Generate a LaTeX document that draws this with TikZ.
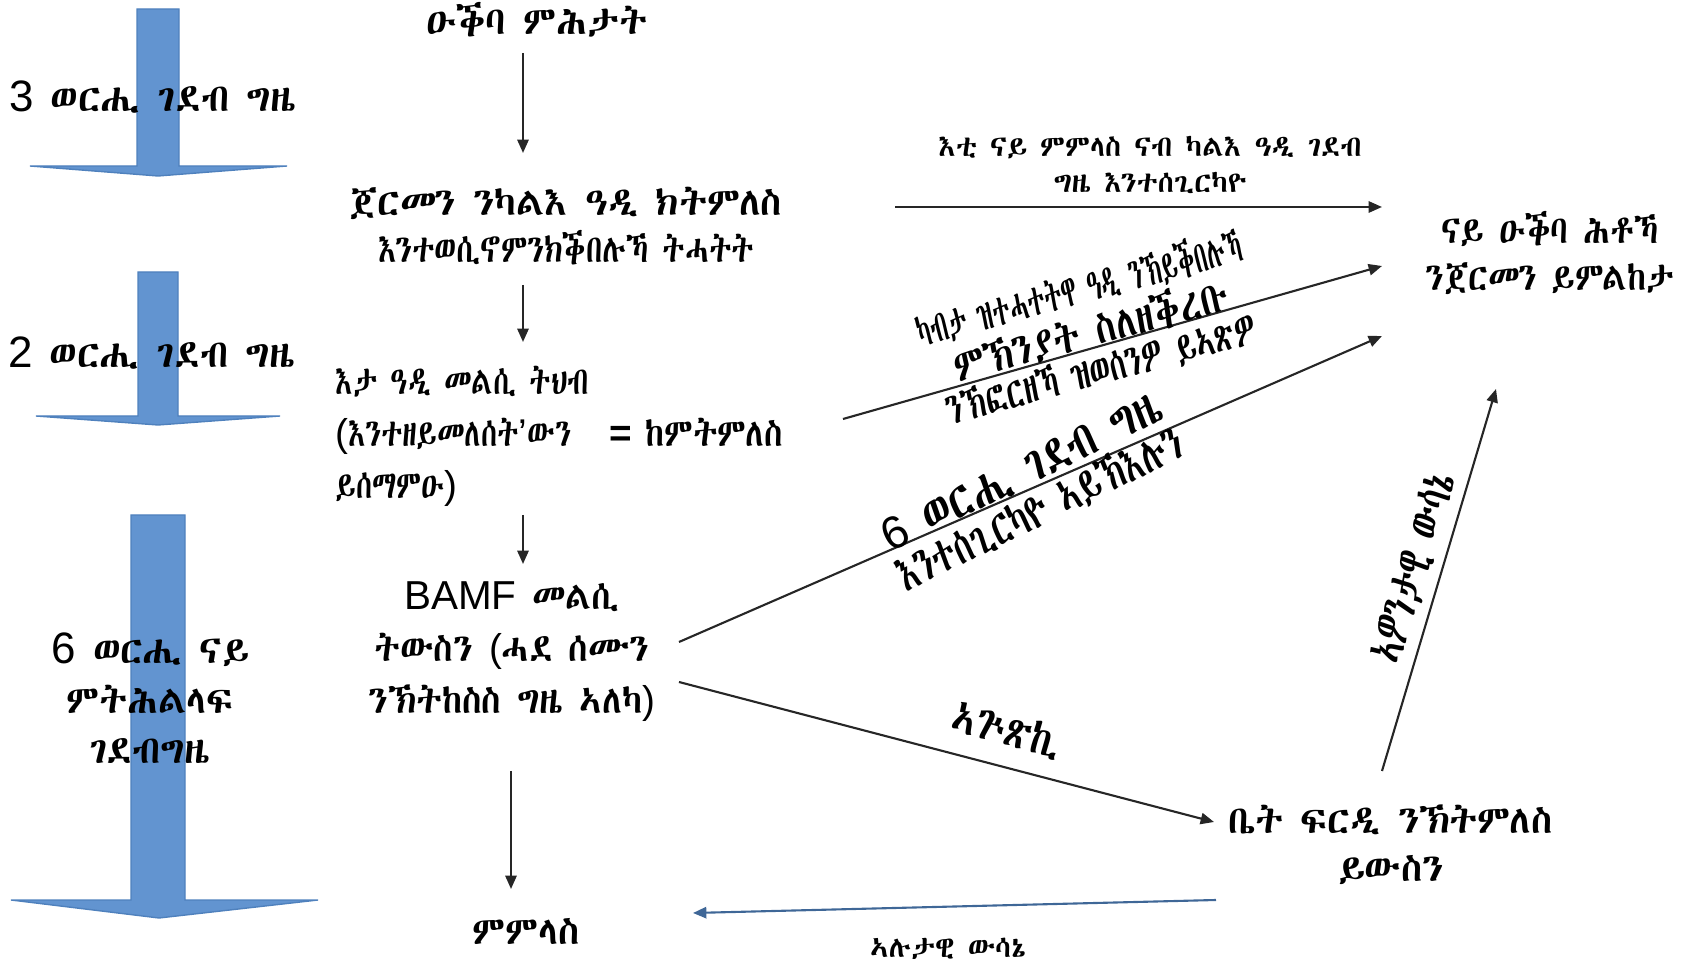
\documentclass[tikz,border=0pt]{standalone}
\usepackage{fontspec}
\setmainfont{Liberation Sans}
\newfontfamily\eth{Abyssinica SIL}
\newfontfamily\ethA[FakeStretch=0.87]{Abyssinica SIL}
\newfontfamily\ethG[FakeStretch=0.76]{Abyssinica SIL}
\newfontfamily\ethB[FakeStretch=0.8]{Abyssinica SIL}
\newfontfamily\ethC[FakeStretch=0.55]{Abyssinica SIL}
\newfontfamily\ethD[FakeStretch=0.68]{Abyssinica SIL}
\newfontfamily\ethE[FakeStretch=0.84]{Abyssinica SIL}
\newfontfamily\ethF[FakeStretch=0.92]{Abyssinica SIL}
\usetikzlibrary{arrows.meta}
\newcommand\latn[1]{{\rmfamily #1}}
\definecolor{bluefill}{RGB}{98,148,208}
\definecolor{blueline}{RGB}{79,129,189}
\tikzset{
 txt/.style={inner sep=0pt, font=\eth\fontsize{11}{13.6}\selectfont, text=black},
 small/.style={inner sep=0pt, font=\eth\fontsize{8.3}{10.2}\selectfont},
 big/.style={inner sep=0pt, font=\eth\fontsize{13}{11}\selectfont},
 arr/.style={draw=black!85, line width=0.6pt, -{Triangle[length=3.8pt,width=3.2pt]}},
 bigarrow/.style={fill=bluefill, draw=blueline, line width=0.4pt}
}
\begin{document}
\begin{tikzpicture}[x=0.01cm, y=-0.01cm]
\useasboundingbox (0,0) rectangle (1684,967);
% blue time arrows
\draw[bigarrow] (137,9) -- (179,9) -- (179,166) -- (287,166) -- (158,176) -- (30,166) -- (137,166) -- cycle;
\draw[bigarrow] (138,272) -- (178,272) -- (178,416) -- (280,416) -- (158,425) -- (36,416) -- (138,416) -- cycle;
\draw[bigarrow] (131,515) -- (185,515) -- (185,900) -- (318,900) -- (159,918) -- (11,900) -- (131,900) -- cycle;
\node[txt] (t3) at (153,97) {\latn{\fontsize{12.5}{14}\selectfont 3} ወርሒ ገደብ ግዜ};
\node[txt] (t2) at (152,353) {\latn{\fontsize{12.5}{14}\selectfont 2} ወርሒ ገደብ ግዜ};
\node[txt, align=center, font=\eth\fontsize{11}{14.2}\selectfont] (t6) at (150,698) {\latn{\fontsize{12.5}{14}\selectfont 6} ወርሒ ናይ\\ምትሕልላፍ\\ገደብግዜ};
% main column
\node[txt] (ask) at (537,20) {ዑቕባ ምሕታት};
\node[txt, align=center] (germ) at (566,226) {ጀርመን ንካልእ ዓዲ ክትምለስ\\{\ethB እንተወሲኖምንክቕበሉኻ ትሓትት}};
\node[txt, align=left, anchor=west, font=\ethG\fontsize{11}{14.8}\selectfont] (ans) at (335,436) {እታ ዓዲ መልሲ ትህብ\\\latn{(}እንተዘይመለሰት\latn{'}ውን\quad\latn{\textbf{=}}\ {\ethA ከምትምለስ}\\ይሰማምዑ\latn{)}};
\node[txt, align=center, font=\ethF\fontsize{11}{14.8}\selectfont] (bamf) at (512,652) {\latn{\fontsize{11.5}{14}\selectfont BAMF} መልሲ\\ትውስን \latn{(}ሓደ ሰሙን\\ንኽትከስስ ግዜ ኣለካ\latn{)}};
\node[txt] (ret) at (526,931) {ምምላስ};
% right column
\node[txt, align=center, font=\ethA\fontsize{11}{13.6}\selectfont] (resp) at (1550,253) {ናይ ዑቕባ ሕቶኻ\\ንጀርመን ይምልከታ};
\node[txt, align=center] (court) at (1391,845) {ቤት ፍርዲ ንኽትምለስ\\ይውስን};
% connector end points
\coordinate (a1s) at (523,53);  \coordinate (a1e) at (523,153);
\coordinate (a2s) at (523,285); \coordinate (a2e) at (523,342);
\coordinate (a3s) at (523,515); \coordinate (a3e) at (523,564);
\coordinate (a4s) at (511,771); \coordinate (a4e) at (511,889);
\coordinate (hAs) at (895,207); \coordinate (hAe) at (1382,207);
\coordinate (hBs) at (843,419); \coordinate (hBe) at (1382,266);
\coordinate (hCs) at (679,642); \coordinate (hCe) at (1382,336);
\coordinate (hDs) at (679,682); \coordinate (hDe) at (1214,822);
\coordinate (hEs) at (1382,771); \coordinate (hEe) at (1496,389);
\coordinate (hFs) at (1216,900); \coordinate (hFe) at (693,913);
\draw[arr] (a1s) -- (a1e);
\draw[arr] (a2s) -- (a2e);
\draw[arr] (a3s) -- (a3e);
\draw[arr] (a4s) -- (a4e);
\draw[arr] (hAs) -- (hAe);
\draw[arr] (hBs) -- (hBe);
\draw[arr] (hCs) -- (hCe);
\draw[arr] (hDs) -- (hDe);
\draw[arr] (hEs) -- (hEe);
\draw[arr, draw=blueline!80!black] (hFs) -- (hFe);
% labels on connectors
\node[small, align=center] (lA) at (1150,165) {እቲ ናይ ምምላስ ናብ ካልእ ዓዲ ገደብ\\ግዜ እንተሰጊርካዮ};
\node[txt, align=center, rotate=15, font=\ethC\fontsize{12.5}{9.6}\selectfont] (lB) at (1090,328) {ካብታ ዝተሓተትዋ ዓዲ ንኽይቕበሉኻ\\{\ethE ምኽንያት ስለዘቕረቡ}\\{\ethD ንኽፎርዘኻ ዝወሰንዎ ይኣጽዎ}};
\node[big, align=center, rotate=26, font=\ethE\fontsize{14}{12}\selectfont] (lC) at (1032,492) {\latn{\fontsize{13}{12}\selectfont 6} ወርሒ ገደብ ግዜ\\{\ethD እንተሰጊርካዮ ኣይኽእሉን}};
\node[big, rotate=-15, font=\ethB\fontsize{13.5}{11}\selectfont] (lD) at (1007,730) {ኣጕጽኪ};
\node[big, rotate=73, font=\ethD\fontsize{14}{11}\selectfont] (lE) at (1414,568) {ኣዎንታዊ ውሳኔ};
\node[small] (lF) at (948,949) {ኣሉታዊ ውሳኔ};
\end{tikzpicture}
\end{document}
